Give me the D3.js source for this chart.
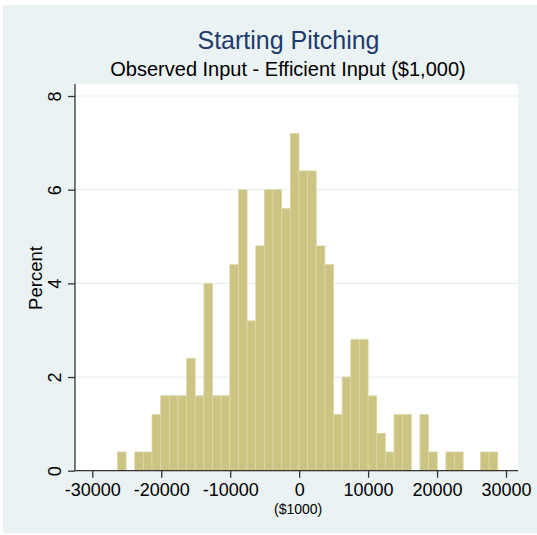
<!DOCTYPE html>
<html><head><meta charset="utf-8">
<script src="https://cdn.jsdelivr.net/npm/d3@7"></script>
<style>
html,body{margin:0;padding:0;background:#fff;}
svg{display:block;font-family:"Liberation Sans",Arial,sans-serif;}
</style></head>
<body>
<svg id="chart" width="537" height="535"></svg>
<script>
// ---- data ----
const title = "Starting Pitching";
const subtitle = "Observed Input - Efficient Input ($1,000)";
const xLabel = "($1000)";
const yLabel = "Percent";
const dataMin = -26350;
const dataMax = 28800;
const nBins = 44;
const percents = [0.4,0,0.4,0.4,1.2,1.6,1.6,1.6,2.4,1.6,4.0,1.6,1.6,4.4,6.0,3.2,4.8,6.0,6.0,5.6,7.2,6.4,6.4,4.8,4.4,1.2,2.0,2.8,2.8,1.6,0.8,0.4,1.2,1.2,0,1.2,0.4,0,0.4,0.4,0,0,0.4,0.4];
const xTicks = [-30000,-20000,-10000,0,10000,20000,30000];
const yTicks = [0,2,4,6,8];

// ---- layout ----
const svg = d3.select("#chart");
const W = 537, H = 535;
const plot = {left:75, right:518, top:84, bottom:471};

svg.append("rect").attr("x",3).attr("y",5).attr("width",W-3).attr("height",528).attr("fill","#eaf2f3");
svg.append("rect").attr("x",plot.left).attr("y",plot.top).attr("width",plot.right-plot.left).attr("height",plot.bottom-plot.top).attr("fill","#ffffff");

const x = d3.scaleLinear().domain([-30000,30000]).range([92.3,506]);
const y = d3.scaleLinear().domain([0,8]).range([470.7,96]);

// gridlines
svg.append("g").selectAll("line").data(yTicks.filter(d=>d>0)).join("line")
  .attr("x1",plot.left).attr("x2",plot.right)
  .attr("y1",d=>y(d)).attr("y2",d=>y(d))
  .attr("stroke","#e6eff1").attr("stroke-width",1.2);

// bars
const binW = (dataMax-dataMin)/nBins;
const bins = percents.map((p,i)=>({x0:dataMin+i*binW, x1:dataMin+(i+1)*binW, p}));
svg.append("g").selectAll("rect").data(bins.filter(b=>b.p>0)).join("rect")
  .attr("x",d=>x(d.x0)).attr("width",d=>x(d.x1)-x(d.x0))
  .attr("y",d=>y(d.p)).attr("height",d=>y(0)-y(d.p))
  .attr("fill","#cbc483").attr("stroke","#ddd8a8").attr("stroke-width",0.8);

// axes
const xAxis = d3.axisBottom(x).tickValues(xTicks).tickSize(7).tickPadding(5).tickFormat(d=>String(d));
const gx = svg.append("g").attr("transform",`translate(0,${y(0)})`).call(xAxis);
gx.select(".domain").attr("d",`M${plot.left},0H${plot.right}`).attr("stroke","#333").attr("stroke-width",1.3);
gx.selectAll(".tick line").attr("stroke","#333").attr("stroke-width",1.3);
gx.selectAll(".tick text").attr("font-size",18).attr("fill","#000").attr("font-family","Liberation Sans, Arial, sans-serif").attr("dy","0.72em");

const yAxis = d3.axisLeft(y).tickValues(yTicks).tickSize(7).tickPadding(0).tickFormat(d=>String(d));
const gy = svg.append("g").attr("transform",`translate(${plot.left},0)`).call(yAxis);
gy.select(".domain").attr("d",`M0,${plot.bottom}V${plot.top}`).attr("stroke","#333").attr("stroke-width",1.3);
gy.selectAll(".tick line").attr("stroke","#333").attr("stroke-width",1.3);
gy.selectAll(".tick text").attr("font-size",18).attr("fill","#000").attr("font-family","Liberation Sans, Arial, sans-serif")
  .attr("x",null).attr("dy",null)
  .attr("text-anchor","middle")
  .attr("transform","translate(-14.5,0) rotate(-90)");

// titles
svg.append("text").attr("x",288.5).attr("y",49).attr("text-anchor","middle")
  .attr("font-size",25).attr("fill","#1f3a6c").text(title);
svg.append("text").attr("x",288).attr("y",76).attr("text-anchor","middle")
  .attr("font-size",20).attr("fill","#000").text(subtitle);
svg.append("text").attr("x",x(0)-1).attr("y",514).attr("text-anchor","middle")
  .attr("font-size",14).attr("fill","#000").text(xLabel);
svg.append("text").attr("transform",`translate(42,278) rotate(-90)`).attr("text-anchor","middle")
  .attr("font-size",18.5).attr("fill","#000").text(yLabel);
</script>
</body></html>
